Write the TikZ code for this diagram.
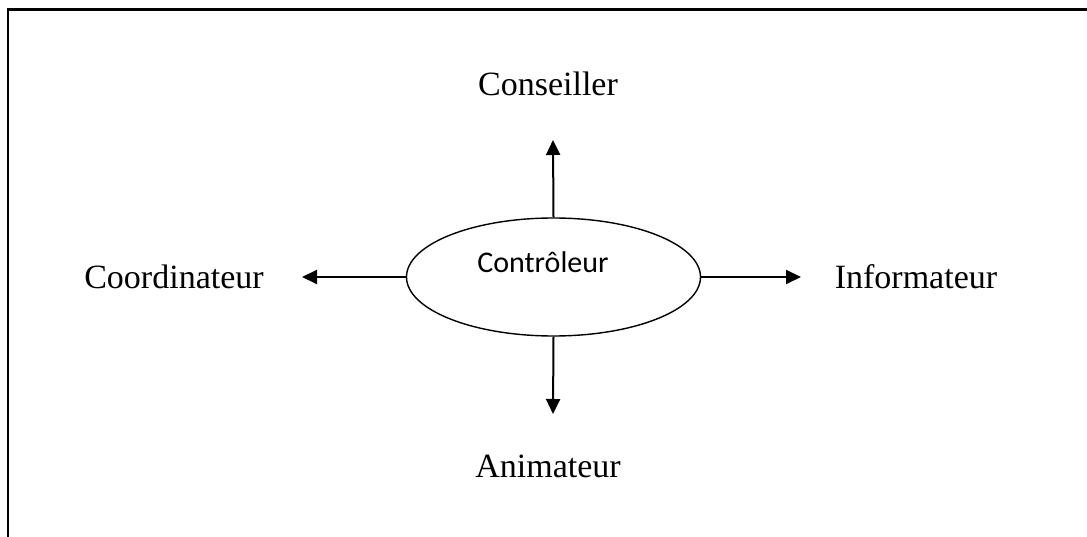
\documentclass[tikz,border=0pt]{standalone}
\usepackage{fontspec}
\setmainfont{Liberation Serif}
\newfontfamily\calib{Carlito}
\usetikzlibrary{shapes.geometric,arrows.meta}
\tikzset{
  role/.style={font=\fontsize{34}{40}\selectfont, inner sep=0pt},
  hub/.style={draw, ellipse, line width=1.4pt, minimum width=294pt, minimum height=118pt, inner sep=0pt},
  hubtext/.style={font=\calib\fontsize{30}{34}\selectfont, inner sep=0pt},
  link/.style={line width=2pt, -{Triangle[length=15pt,width=14pt]}},
  frame/.style={line width=2.2pt}
}
\begin{document}
\begin{tikzpicture}[x=1pt,y=-1pt]
  \useasboundingbox (0,0) rectangle (1087,537);
  % open frame: top and left edges only
  \coordinate (fa) at (8,537);
  \coordinate (fb) at (8,9.5);
  \coordinate (fc) at (1087,9.5);
  \draw[frame] (fa) -- (fb) -- (fc);

  % central role
  \node[hub] (ctrl) at (553.5,277) {};
  \node[hubtext] (ctrltext) at (543,262) {Contrôleur};

  % surrounding roles
  \node[role] (cons) at (548,84) {Conseiller};
  \node[role] (coord) at (174,277) {Coordinateur};
  \node[role] (info) at (916,277) {Informateur};
  \node[role] (anim) at (548,466) {Animateur};

  % arrow tips
  \coordinate (tn) at (553,140);
  \coordinate (tw) at (302,277);
  \coordinate (te) at (801,277);
  \coordinate (ts) at (553,414);

  \draw[link] (ctrl.north) -- (tn);
  \draw[link] (ctrl.west) -- (tw);
  \draw[link] (ctrl.east) -- (te);
  \draw[link] (ctrl.south) -- (ts);
\end{tikzpicture}
\end{document}
